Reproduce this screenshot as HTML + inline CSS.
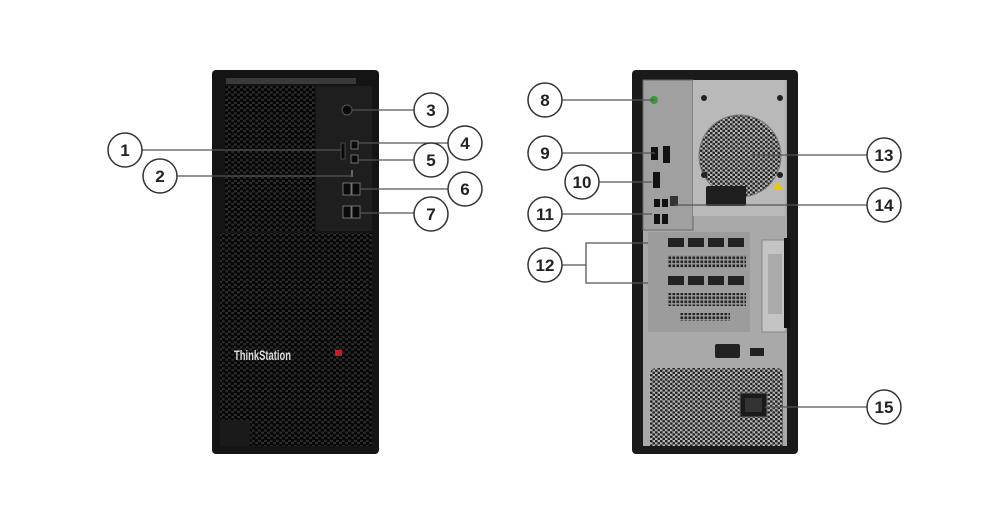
<!DOCTYPE html>
<html><head><meta charset="utf-8"><style>html,body{margin:0;padding:0;background:#fff}svg{display:block}</style></head><body>
<svg width="1000" height="524" viewBox="0 0 1000 524" xmlns="http://www.w3.org/2000/svg" font-family="Liberation Sans, sans-serif">
<defs>
<pattern id="hex" width="6" height="5.2" patternUnits="userSpaceOnUse">
<rect width="6" height="5.2" fill="#2e2e2e"/>
<circle cx="1.5" cy="1.3" r="1.9" fill="#050505"/><circle cx="4.5" cy="3.9" r="1.9" fill="#050505"/>
</pattern>
<pattern id="hexg" width="5" height="4.4" patternUnits="userSpaceOnUse">
<rect width="5" height="4.4" fill="#b8b8b8"/>
<circle cx="1.25" cy="1.1" r="1.4" fill="#222"/><circle cx="3.75" cy="3.3" r="1.4" fill="#222"/>
</pattern>
<pattern id="grill" width="4" height="4" patternUnits="userSpaceOnUse">
<rect width="4" height="4" fill="#999"/><rect x="0.5" y="0.5" width="2.6" height="2.6" fill="#222"/>
</pattern>
</defs>

<!-- FRONT TOWER -->
<rect x="212" y="70" width="167" height="384" rx="4" fill="#141414"/>
<rect x="226" y="78" width="130" height="6" fill="#3a3a3a"/>
<rect x="225" y="86" width="90" height="145" fill="url(#hex)"/>
<rect x="316" y="86" width="56" height="145" fill="#1e1e1e"/>
<rect x="220" y="233" width="152" height="213" fill="url(#hex)"/>
<rect x="220" y="420" width="30" height="26" fill="#1a1a1a"/>
<circle cx="347" cy="110" r="5" fill="#0a0a0a" stroke="#555"/>
<rect x="341" y="143" width="4" height="16" fill="#0a0a0a" stroke="#555" stroke-width="0.8"/>
<rect x="351" y="141" width="7" height="8" fill="#0a0a0a" stroke="#888" stroke-width="0.8"/>
<rect x="351" y="155" width="7" height="8" fill="#0a0a0a" stroke="#888" stroke-width="0.8"/>
<rect x="351" y="170" width="2" height="7" fill="#666"/>
<rect x="343" y="183" width="8" height="12" fill="#0a0a0a" stroke="#888" stroke-width="0.8"/>
<rect x="352" y="183" width="8" height="12" fill="#0a0a0a" stroke="#888" stroke-width="0.8"/>
<rect x="343" y="206" width="8" height="12" fill="#0a0a0a" stroke="#888" stroke-width="0.8"/>
<rect x="352" y="206" width="8" height="12" fill="#0a0a0a" stroke="#888" stroke-width="0.8"/>
<text x="234" y="360" font-size="14" font-weight="bold" fill="#ddd" textLength="57" lengthAdjust="spacingAndGlyphs">ThinkStation</text>
<rect x="335" y="350" width="7" height="6" fill="#b22"/>

<!-- BACK TOWER -->
<rect x="632" y="70" width="166" height="384" rx="4" fill="#1a1a1a"/>
<rect x="643" y="80" width="144" height="366" fill="#a9a9a9"/>
<rect x="643" y="80" width="50" height="150" fill="#a0a0a0" stroke="#666" stroke-width="1"/>
<rect x="693" y="80" width="92" height="136" fill="#b9b9b9"/>
<circle cx="740" cy="156" r="41" fill="url(#hexg)"/>
<circle cx="740" cy="156" r="41" fill="none" stroke="#777" stroke-width="1"/>
<circle cx="704" cy="98" r="3" fill="#222"/><circle cx="780" cy="98" r="3" fill="#222"/>
<circle cx="704" cy="175" r="3" fill="#222"/><circle cx="780" cy="175" r="3" fill="#222"/>
<rect x="706" y="186" width="40" height="20" rx="2" fill="#1e1e1e"/>
<polygon points="778,181 773,190 783,190" fill="#e8c800"/>
<circle cx="654" cy="100" r="4" fill="#3a9a3a"/>
<rect x="651" y="147" width="7" height="13" fill="#111"/><rect x="663" y="146" width="7" height="17" fill="#111"/>
<rect x="653" y="172" width="7" height="16" fill="#111"/>
<rect x="654" y="199" width="6" height="8" fill="#111"/><rect x="662" y="199" width="6" height="8" fill="#111"/>
<rect x="654" y="214" width="6" height="10" fill="#111"/><rect x="662" y="214" width="6" height="10" fill="#111"/>
<rect x="670" y="196" width="8" height="10" fill="#333"/>
<rect x="648" y="232" width="102" height="100" fill="#9c9c9c"/>
<g fill="#222">
<rect x="668" y="238" width="16" height="9"/><rect x="688" y="238" width="16" height="9"/><rect x="708" y="238" width="16" height="9"/><rect x="728" y="238" width="16" height="9"/>
<rect x="668" y="276" width="16" height="9"/><rect x="688" y="276" width="16" height="9"/><rect x="708" y="276" width="16" height="9"/><rect x="728" y="276" width="16" height="9"/>
</g>
<rect x="668" y="255" width="78" height="13" fill="url(#grill)"/>
<rect x="668" y="293" width="78" height="13" fill="url(#grill)"/>
<rect x="680" y="313" width="50" height="8" fill="url(#grill)"/>
<rect x="762" y="240" width="24" height="92" fill="#c4c4c4" stroke="#888"/>
<rect x="768" y="254" width="14" height="60" fill="#aaa"/>
<rect x="784" y="238" width="6" height="90" fill="#111"/>
<rect x="715" y="344" width="25" height="14" rx="2" fill="#222"/>
<rect x="750" y="348" width="14" height="8" fill="#222"/>
<path d="M650,446 L650,375 Q650,368 657,368 L776,368 Q783,368 783,375 L783,446 Z" fill="url(#hexg)"/>
<rect x="740" y="393" width="27" height="24" fill="#1a1a1a" stroke="#666"/>
<rect x="745" y="398" width="17" height="14" fill="#333"/>

<!-- CALLOUT LINES -->
<g stroke="#555" stroke-width="1.3" fill="none">
<line x1="142" y1="150" x2="341" y2="150"/>
<line x1="177" y1="176" x2="352" y2="176"/>
<line x1="352" y1="110" x2="415" y2="110"/>
<line x1="358" y1="143" x2="449" y2="143"/>
<line x1="358" y1="160" x2="415" y2="160"/>
<line x1="360" y1="189" x2="449" y2="189"/>
<line x1="360" y1="213" x2="415" y2="213"/>
<line x1="562" y1="100" x2="654" y2="100"/>
<line x1="562" y1="153" x2="655" y2="153"/>
<line x1="599" y1="182" x2="652" y2="182"/>
<line x1="562" y1="214" x2="652" y2="214"/>
<line x1="562" y1="265" x2="586" y2="265"/>
<polyline points="648,243 586,243 586,283 648,283"/>
<line x1="750" y1="155" x2="867" y2="155"/>
<line x1="675" y1="205" x2="867" y2="205"/>
<line x1="765" y1="407" x2="867" y2="407"/>
</g>

<!-- CIRCLES -->
<g fill="#fff" stroke="#333" stroke-width="1.5">
<circle cx="125" cy="150" r="17"/><circle cx="160" cy="176" r="17"/>
<circle cx="431" cy="110" r="17"/><circle cx="465" cy="143" r="17"/><circle cx="431" cy="160" r="17"/>
<circle cx="465" cy="189" r="17"/><circle cx="431" cy="214" r="17"/>
<circle cx="545" cy="100" r="17"/><circle cx="545" cy="153" r="17"/><circle cx="582" cy="182" r="17"/>
<circle cx="545" cy="214" r="17"/><circle cx="545" cy="265" r="17"/>
<circle cx="884" cy="155" r="17"/><circle cx="884" cy="205" r="17"/><circle cx="884" cy="407" r="17"/>
</g>
<g font-size="17" font-weight="bold" fill="#222" text-anchor="middle">
<text x="125" y="156">1</text><text x="160" y="182">2</text>
<text x="431" y="116">3</text><text x="465" y="149">4</text><text x="431" y="166">5</text>
<text x="465" y="195">6</text><text x="431" y="220">7</text>
<text x="545" y="106">8</text><text x="545" y="159">9</text><text x="582" y="188">10</text>
<text x="545" y="220">11</text><text x="545" y="271">12</text>
<text x="884" y="161">13</text><text x="884" y="211">14</text><text x="884" y="413">15</text>
</g>
</svg>
</body></html>
